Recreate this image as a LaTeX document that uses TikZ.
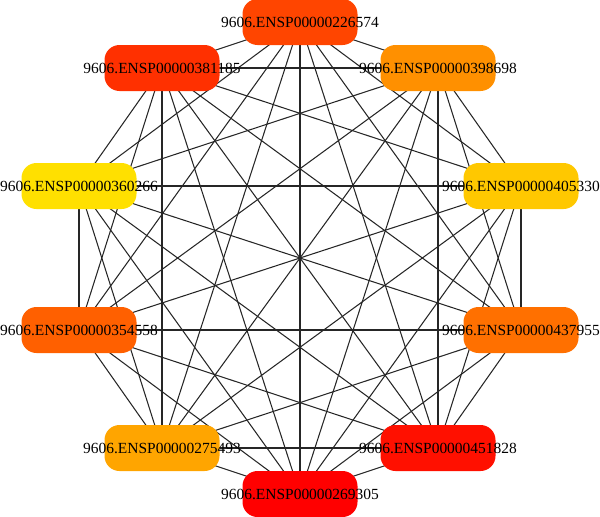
\documentclass[tikz,border=0pt]{standalone}
\usepackage{fontspec}
\setmainfont{Liberation Serif}
\usepackage{tikz}
\usetikzlibrary{backgrounds}
\definecolor{protA}{RGB}{255,69,0}
\definecolor{protB}{RGB}{255,48,0}
\definecolor{protC}{RGB}{255,144,0}
\definecolor{protD}{RGB}{255,224,0}
\definecolor{protE}{RGB}{255,200,0}
\definecolor{protF}{RGB}{255,96,0}
\definecolor{protG}{RGB}{255,112,0}
\definecolor{protH}{RGB}{255,165,0}
\definecolor{protI}{RGB}{255,16,0}
\definecolor{protJ}{RGB}{255,0,0}
\begin{document}
\begin{tikzpicture}[link/.style={draw=black!85,line width=0.6pt}]
\tikzstyle{prot}=[rounded corners=0.3cm,minimum width=2.3cm,minimum height=0.92cm,inner sep=0pt,font=\fontsize{8.8}{10}\selectfont]
\useasboundingbox (0,0) rectangle (12,10.32);
\node [prot,fill=protA] (a) at (6.00,9.88) {\makebox[0pt]{9606.ENSP00000226574}};
\node [prot,fill=protB] (b) at (3.24,8.96) {\makebox[0pt]{9606.ENSP00000381185}};
\node [prot,fill=protC] (c) at (8.76,8.96) {\makebox[0pt]{9606.ENSP00000398698}};
\node [prot,fill=protD] (d) at (1.58,6.60) {\makebox[0pt]{9606.ENSP00000360266}};
\node [prot,fill=protE] (e) at (10.42,6.60) {\makebox[0pt]{9606.ENSP00000405330}};
\node [prot,fill=protF] (f) at (1.58,3.72) {\makebox[0pt]{9606.ENSP00000354558}};
\node [prot,fill=protG] (g) at (10.42,3.72) {\makebox[0pt]{9606.ENSP00000437955}};
\node [prot,fill=protH] (h) at (3.24,1.36) {\makebox[0pt]{9606.ENSP00000275493}};
\node [prot,fill=protI] (i) at (8.76,1.36) {\makebox[0pt]{9606.ENSP00000451828}};
\node [prot,fill=protJ] (j) at (6.00,0.44) {\makebox[0pt]{9606.ENSP00000269305}};
% every protein linked to every other
\begin{pgfonlayer}{background}
\foreach \u [count=\p] in {a,b,c,d,e,f,g,h,i,j}{
  \foreach \v [count=\q] in {a,b,c,d,e,f,g,h,i,j}{
    \ifnum\q>\p \path [link] (\u.center) -- (\v.center); \fi
  }
}
\end{pgfonlayer}
\end{tikzpicture}
\end{document}
